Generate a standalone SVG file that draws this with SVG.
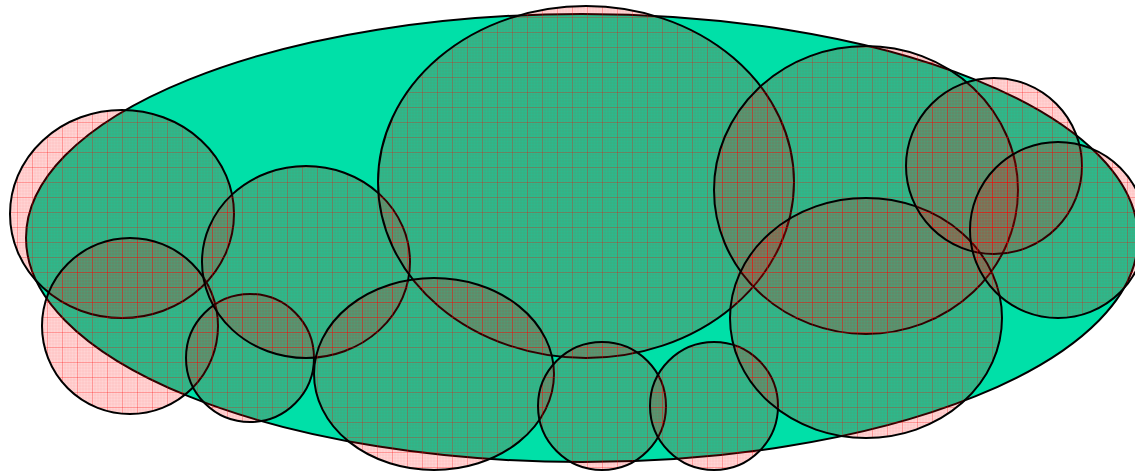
<svg xmlns="http://www.w3.org/2000/svg" width="1135" height="474" viewBox="0 0 1135 474">
<defs>
<pattern id="grid" patternUnits="userSpaceOnUse" width="15" height="15" x="2" y="2">
<rect width="15" height="15" fill="#ff0000" fill-opacity="0.17"/>
<path d="M3 0V15M6 0V15M9 0V15M12 0V15M0 3H15M0 6H15M0 9H15M0 12H15" stroke="#ff0000" stroke-opacity="0.05" stroke-width="1"/>
<path d="M0.5 0V15M0 0.5H15" stroke="#ff0000" stroke-opacity="0.28" stroke-width="1"/>
</pattern>
<style>
.c{fill:url(#grid);stroke:#000;stroke-width:2}
</style>
</defs>
<g id="base"><ellipse cx="582" cy="238" rx="556" ry="224" fill="#00e0a8" stroke="#000" stroke-width="2"/></g>
<g id="n1"><ellipse class="c" cx="122" cy="214" rx="112" ry="104"/></g>
<g id="n2"><ellipse class="c" cx="130" cy="326" rx="88" ry="88"/></g>
<g id="n3"><ellipse class="c" cx="250" cy="358" rx="64" ry="64"/></g>
<g id="n4"><ellipse class="c" cx="306" cy="262" rx="104" ry="96"/></g>
<g id="n5"><ellipse class="c" cx="586" cy="182" rx="208" ry="176"/></g>
<g id="n6"><ellipse class="c" cx="434" cy="374" rx="120" ry="96"/></g>
<g id="n7"><ellipse class="c" cx="602" cy="406" rx="64" ry="64"/></g>
<g id="n8"><ellipse class="c" cx="714" cy="406" rx="64" ry="64"/></g>
<g id="n9"><ellipse class="c" cx="866" cy="190" rx="152" ry="144"/></g>
<g id="n10"><ellipse class="c" cx="866" cy="318" rx="136" ry="120"/></g>
<g id="n11"><ellipse class="c" cx="994" cy="166" rx="88" ry="88"/></g>
<g id="n12"><ellipse class="c" cx="1058" cy="230" rx="88" ry="88"/></g>
<g id="connectors"></g>
</svg>
